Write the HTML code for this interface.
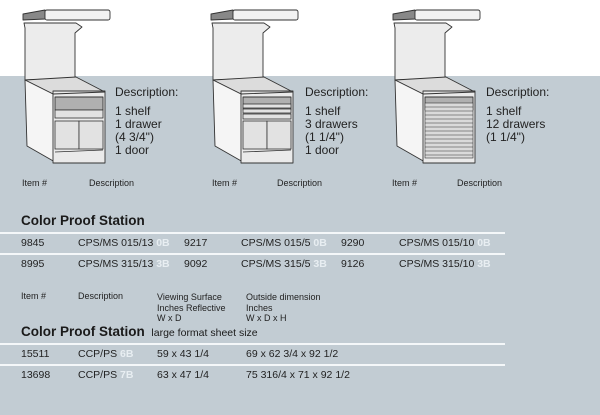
<!DOCTYPE html>
<html><head><meta charset="utf-8"><style>
body{margin:0;width:600px;height:415px;overflow:hidden;background:#fff;font-family:"Liberation Sans",sans-serif;color:#1a1a1a;position:relative}
.band{position:absolute;left:0;top:76px;width:600px;height:339px;background:#c2ccd3}
.t{position:absolute;white-space:nowrap;line-height:1}
.d{font-size:12px;line-height:13px;color:#222}
.s{font-size:9px;color:#222}
.h{font-size:13.5px;font-weight:bold}
.r{font-size:10.5px;color:#222}
.w{color:#e8eef2;font-weight:bold}
.ln{position:absolute;left:0;width:505px;height:1.5px;background:#f4f7f9}
svg{position:absolute;left:0;top:0}
</style></head><body>
<div class="band"></div>
<svg width="600" height="200" viewBox="0 0 600 200">
<defs>
<g id="cab" stroke="#333" stroke-width="0.9" stroke-linejoin="round">
<polygon points="24,23 76,23 82,27 75,33 75,78 25,80 25,28" fill="#ececec"/>
<polygon points="23,14 45,10 45,19 23,20" fill="#888"/>
<rect x="45" y="10" width="65" height="10" rx="2" fill="#f2f2f2"/>
<polygon points="25,80 76,77 103,91 53,94" fill="#dcdcdc"/>
<polygon points="25,80 53,94 55,162 27,146" fill="#f5f5f5"/>
<rect x="53" y="91" width="52" height="72" fill="#eaeaea"/>
<rect x="55" y="97" width="48" height="13" fill="#b0b0b0"/>
<line x1="53" y1="94" x2="105" y2="92"/>
</g>
</defs>
<use href="#cab"/>
<g stroke="#333" stroke-width="0.8" fill="#e2e2e2">
<rect x="55" y="110" width="48" height="8"/>
<rect x="55" y="121" width="24" height="28"/><rect x="79" y="121" width="24" height="28"/>
<line x1="55" y1="152" x2="103" y2="150"/>
</g>
<use href="#cab" x="188"/>
<g stroke="#333" stroke-width="0.8" fill="#e2e2e2">
<rect x="243" y="104" width="48" height="4"/><rect x="243" y="109" width="48" height="4"/><rect x="243" y="114" width="48" height="5"/>
<rect x="243" y="121" width="24" height="28"/><rect x="267" y="121" width="24" height="28"/>
<line x1="243" y1="152" x2="291" y2="150"/>
</g>
<use href="#cab" x="370"/>
<g stroke="#333" stroke-width="0.6" fill="#dadada">
<rect x="425" y="103" width="48" height="55"/>
<line x1="425" y1="107" x2="473" y2="107"/><line x1="425" y1="111" x2="473" y2="111"/><line x1="425" y1="115" x2="473" y2="115"/><line x1="425" y1="119" x2="473" y2="119"/><line x1="425" y1="123" x2="473" y2="123"/><line x1="425" y1="127" x2="473" y2="127"/><line x1="425" y1="131" x2="473" y2="131"/><line x1="425" y1="135" x2="473" y2="135"/><line x1="425" y1="139" x2="473" y2="139"/><line x1="425" y1="143" x2="473" y2="143"/><line x1="425" y1="147" x2="473" y2="147"/><line x1="425" y1="151" x2="473" y2="151"/><line x1="425" y1="155" x2="473" y2="155"/>
</g>
</svg>
<div class="t d" style="left:115px;top:86px">Description:</div>
<div class="t d" style="left:115px;top:105px">1 shelf<br>1 drawer<br>(4 3/4")<br>1 door</div>
<div class="t d" style="left:305px;top:86px">Description:</div>
<div class="t d" style="left:305px;top:105px">1 shelf<br>3 drawers<br>(1 1/4")<br>1 door</div>
<div class="t d" style="left:486px;top:86px">Description:</div>
<div class="t d" style="left:486px;top:105px">1 shelf<br>12 drawers<br>(1 1/4")</div>
<div class="t s" style="left:22px;top:179px">Item #</div><div class="t s" style="left:89px;top:179px">Description</div>
<div class="t s" style="left:212px;top:179px">Item #</div><div class="t s" style="left:277px;top:179px">Description</div>
<div class="t s" style="left:392px;top:179px">Item #</div><div class="t s" style="left:457px;top:179px">Description</div>
<div class="t h" style="left:21px;top:214px">Color Proof Station</div>
<div class="ln" style="top:232px"></div><div class="ln" style="top:253px"></div>
<div class="t r" style="left:21px;top:238px">9845</div><div class="t r" style="left:78px;top:238px">CPS/MS 015/13 <span class="w">0B</span></div>
<div class="t r" style="left:184px;top:238px">9217</div><div class="t r" style="left:241px;top:238px">CPS/MS 015/5 <span class="w">0B</span></div>
<div class="t r" style="left:341px;top:238px">9290</div><div class="t r" style="left:399px;top:238px">CPS/MS 015/10 <span class="w">0B</span></div>
<div class="t r" style="left:21px;top:259px">8995</div><div class="t r" style="left:78px;top:259px">CPS/MS 315/13 <span class="w">3B</span></div>
<div class="t r" style="left:184px;top:259px">9092</div><div class="t r" style="left:241px;top:259px">CPS/MS 315/5 <span class="w">3B</span></div>
<div class="t r" style="left:341px;top:259px">9126</div><div class="t r" style="left:399px;top:259px">CPS/MS 315/10 <span class="w">3B</span></div>
<div class="t s" style="left:21px;top:292px">Item #</div><div class="t s" style="left:78px;top:292px">Description</div>
<div class="t s" style="left:157px;top:292px;line-height:10.5px">Viewing Surface<br>Inches Reflective<br>W x D</div>
<div class="t s" style="left:246px;top:292px;line-height:10.5px">Outside dimension<br>Inches<br>W x D x H</div>
<div class="t h" style="left:21px;top:325px">Color Proof Station <span style="font-weight:normal;font-size:10.5px">&nbsp;large format sheet size</span></div>
<div class="ln" style="top:343px"></div><div class="ln" style="top:364px"></div>
<div class="t r" style="left:21px;top:349px">15511</div><div class="t r" style="left:78px;top:349px">CCP/PS <span class="w">6B</span></div>
<div class="t r" style="left:157px;top:349px">59 x 43 1/4</div><div class="t r" style="left:246px;top:349px">69 x 62 3/4 x 92 1/2</div>
<div class="t r" style="left:21px;top:370px">13698</div><div class="t r" style="left:78px;top:370px">CCP/PS <span class="w">7B</span></div>
<div class="t r" style="left:157px;top:370px">63 x 47 1/4</div><div class="t r" style="left:246px;top:370px">75 316/4 x 71 x 92 1/2</div>
</body></html>
